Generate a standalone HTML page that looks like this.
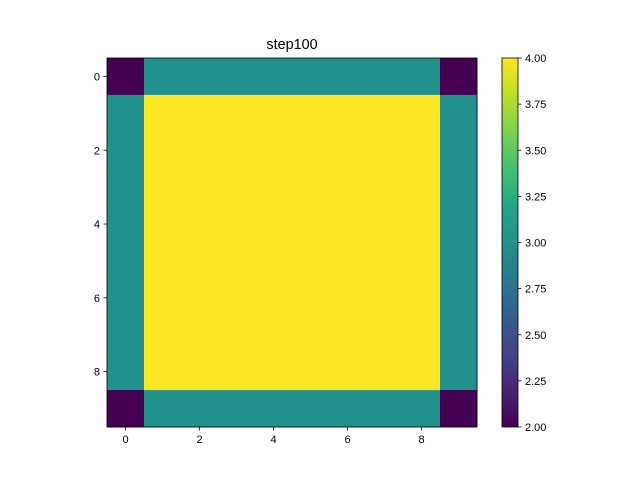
<!DOCTYPE html>
<html><head><meta charset="utf-8"><style>
body{margin:0;background:#fff;}
svg text{font-family:"Liberation Sans","DejaVu Sans",sans-serif;font-size:11px;fill:#000;}
</style></head><body>
<svg id="chart" width="640" height="480" xmlns="http://www.w3.org/2000/svg">
<defs>
<linearGradient id="vir" x1="0" y1="1" x2="0" y2="0">
<stop offset="0" stop-color="#440154"/><stop offset="0.1" stop-color="#482475"/>
<stop offset="0.2" stop-color="#414487"/><stop offset="0.3" stop-color="#355f8d"/>
<stop offset="0.4" stop-color="#2a788e"/><stop offset="0.5" stop-color="#21918c"/>
<stop offset="0.6" stop-color="#22a884"/><stop offset="0.7" stop-color="#44bf70"/>
<stop offset="0.8" stop-color="#7ad151"/><stop offset="0.9" stop-color="#bddf26"/>
<stop offset="1" stop-color="#fde725"/>
</linearGradient>
</defs>
<text x="292" y="49" text-anchor="middle" style="font-size:14.4px">step100</text>
<g id="cells"></g>
<rect x="107" y="58" width="370" height="369" fill="none" stroke="#000" stroke-width="0.8"/>
<g id="ticks"></g>
<rect x="502" y="58" width="16" height="369" fill="url(#vir)" stroke="#000" stroke-width="0.8"/>
<g id="cbticks"></g>
</svg>
<script>
const grid = [
 [2,3,3,3,3,3,3,3,3,2],
 [3,4,4,4,4,4,4,4,4,3],
 [3,4,4,4,4,4,4,4,4,3],
 [3,4,4,4,4,4,4,4,4,3],
 [3,4,4,4,4,4,4,4,4,3],
 [3,4,4,4,4,4,4,4,4,3],
 [3,4,4,4,4,4,4,4,4,3],
 [3,4,4,4,4,4,4,4,4,3],
 [3,4,4,4,4,4,4,4,4,3],
 [2,3,3,3,3,3,3,3,3,2]
];
const xTicks = [0,2,4,6,8];
const yTicks = [0,2,4,6,8];
const cbTicks = [2.00,2.25,2.50,2.75,3.00,3.25,3.50,3.75,4.00];
const vmin = 2, vmax = 4;
const NS = "http://www.w3.org/2000/svg";
const X0=107, Y0=58, W=370, H=369, CB_X=502, CB_W=16;
const nR = grid.length, nC = grid[0].length;
const cw = W/nC, ch = H/nR;
const xPos = c => X0 + cw*(c+0.5);
const yPos = r => Y0 + ch*(r+0.5);
const cbY = v => Y0 + H - (v-vmin)/(vmax-vmin)*H;
const stops = [[68,1,84],[72,36,117],[65,68,135],[53,95,141],[42,120,142],[33,145,140],[34,168,132],[68,191,112],[122,209,81],[189,223,38],[253,231,37]];
function viridis(v){
  let t = Math.max(0,Math.min(1,(v-vmin)/(vmax-vmin)))*10;
  let i = Math.min(9,Math.floor(t)), f=t-i;
  const a=stops[i], b=stops[i+1];
  return `rgb(${a.map((x,k)=>Math.round(x+(b[k]-x)*f)).join(',')})`;
}
function mk(tag, attrs, parent){const e=document.createElementNS(NS,tag);for(const k in attrs)e.setAttribute(k,attrs[k]);parent.appendChild(e);return e;}
const cells=document.getElementById('cells');
grid.forEach((row,r)=>row.forEach((v,c)=>{
  const e=mk('rect',{x:xPos(c)-cw/2,y:yPos(r)-ch/2,width:cw+0.4,height:ch+0.4,fill:viridis(v)},cells);
  
  
}));
const tg=document.getElementById('ticks');
xTicks.forEach(t=>{
  const x=xPos(t);
  const l=mk('line',{x1:x,x2:x,y1:Y0+H,y2:Y0+H+3.5,stroke:'#000','stroke-width':0.8},tg);
  
  
  const tx=mk('text',{x:x,y:Y0+H+16,'text-anchor':'middle'},tg);tx.textContent=t;
  
  
});
yTicks.forEach(t=>{
  const y=yPos(t);
  const l=mk('line',{x1:X0-3.5,x2:X0,y1:y,y2:y,stroke:'#000','stroke-width':0.8},tg);
  
  
  const tx=mk('text',{x:X0-7,y:y+4,'text-anchor':'end'},tg);tx.textContent=t;
  
  
});
const cg=document.getElementById('cbticks');
cbTicks.forEach(t=>{
  const y=cbY(t);
  const l=mk('line',{x1:CB_X+CB_W,x2:CB_X+CB_W+3.5,y1:y,y2:y,stroke:'#000','stroke-width':0.8},cg);
  
  
  const tx=mk('text',{x:CB_X+CB_W+7,y:y+4},cg);tx.textContent=t.toFixed(2);
  
  
});
</script>
</body></html>
